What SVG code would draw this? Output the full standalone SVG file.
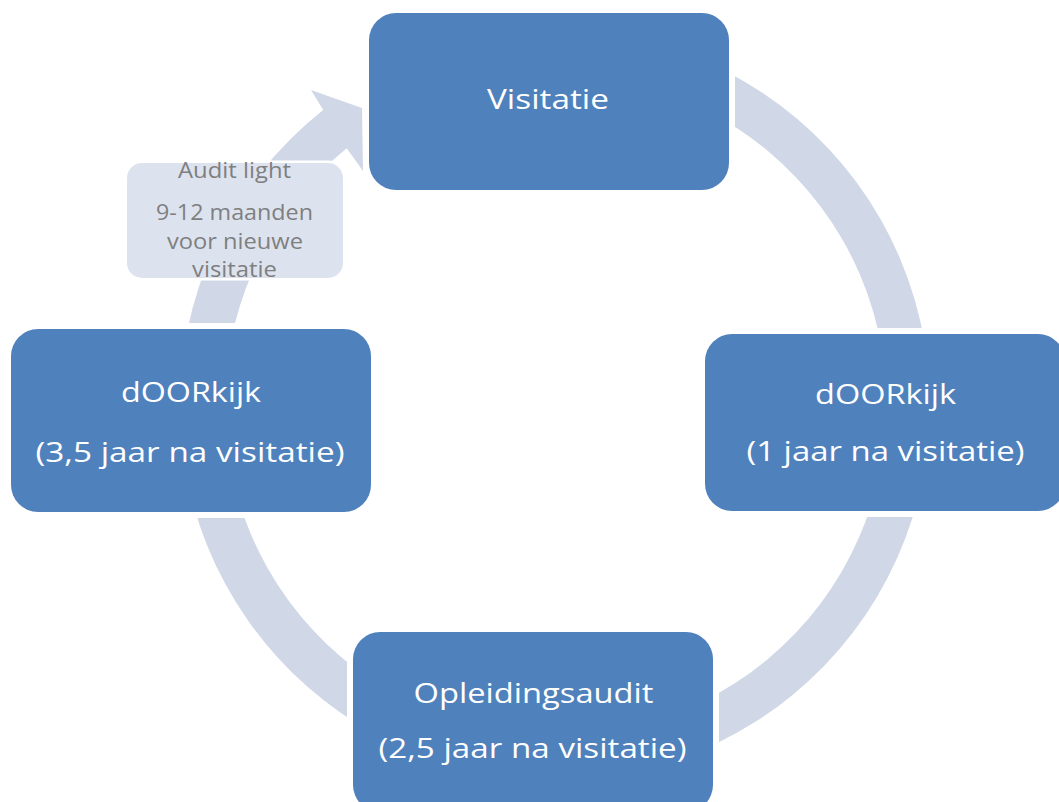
<svg xmlns="http://www.w3.org/2000/svg" width="1059" height="802" viewBox="0 0 1059 802">
<style>
.node{fill:#4F81BD;stroke:#FFFFFF;stroke-width:12;paint-order:stroke}
.big{font-family:"Open Sans","Noto Sans",sans-serif;font-size:28px;fill:#FFFFFF;text-anchor:middle}
.note{fill:#DCE3EF;stroke:#FFFFFF;stroke-width:5;paint-order:stroke}
.small{font-family:"Open Sans","Noto Sans",sans-serif;font-size:22.5px;fill:#7F7F7F;text-anchor:middle}
.ring{fill:#D0D8E8}
</style>
<rect x="0" y="0" width="1059" height="802" fill="#FFFFFF"/>
<g id="connectors">
<path class="ring" d="M555,30 A375,375 0 1 1 323.2,110.1 L311,90 L362,108 L363,171 L346.7,148.3 A331,331 0 1 0 555,74 Z"/>
</g>
<g id="node-visitatie">
<rect class="node" x="369" y="13" width="360" height="177" rx="27"/>
<text class="big" x="548" y="109" textLength="122" lengthAdjust="spacingAndGlyphs">Visitatie</text>
</g>
<g id="node-doorkijk-1">
<rect class="node" x="705" y="334" width="360" height="177" rx="27"/>
<text class="big" x="885.5" y="404" textLength="141" lengthAdjust="spacingAndGlyphs">dOORkijk</text>
<text class="big" x="885.5" y="461" textLength="278" lengthAdjust="spacingAndGlyphs">(1 jaar na visitatie)</text>
</g>
<g id="node-opleidingsaudit">
<rect class="node" x="353" y="632" width="360" height="180" rx="27"/>
<text class="big" x="533.5" y="703" textLength="240" lengthAdjust="spacingAndGlyphs">Opleidingsaudit</text>
<text class="big" x="532.5" y="758" textLength="308" lengthAdjust="spacingAndGlyphs">(2,5 jaar na visitatie)</text>
</g>
<g id="node-doorkijk-35">
<rect class="node" x="11" y="329" width="360" height="183" rx="27"/>
<text class="big" x="191" y="402" textLength="140" lengthAdjust="spacingAndGlyphs">dOORkijk</text>
<text class="big" x="190" y="462" textLength="309" lengthAdjust="spacingAndGlyphs">(3,5 jaar na visitatie)</text>
</g>
<g id="node-audit-light">
<rect class="note" x="127" y="163" width="216" height="115" rx="15"/>
<text class="small" x="234.5" y="177.5" textLength="113" lengthAdjust="spacingAndGlyphs">Audit light</text>
<text class="small" x="234.5" y="220" textLength="157" lengthAdjust="spacingAndGlyphs">9-12 maanden</text>
<text class="small" x="235" y="248.5" textLength="136" lengthAdjust="spacingAndGlyphs">voor nieuwe</text>
<text class="small" x="234.5" y="276.5" textLength="85" lengthAdjust="spacingAndGlyphs">visitatie</text>
</g>
</svg>
